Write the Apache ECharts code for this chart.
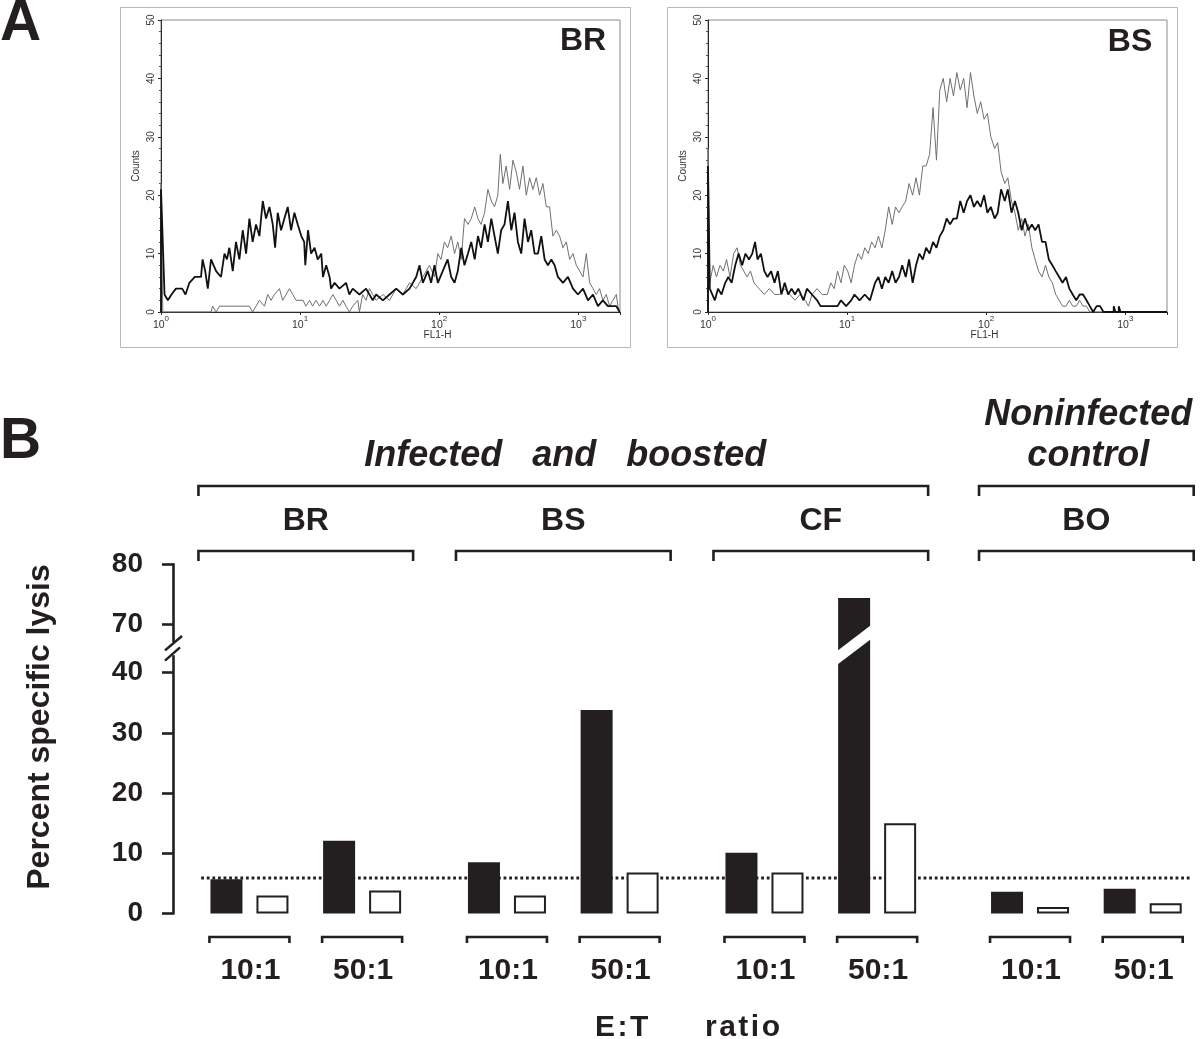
<!DOCTYPE html>
<html><head><meta charset="utf-8">
<script src="https://cdn.jsdelivr.net/npm/echarts@6/dist/echarts.min.js"></script>
<style>html,body{margin:0;padding:0;background:#fff}#c{width:1200px;height:1039px}</style>
</head><body><div id="c"></div>
<script>
// ---------------- Panel A : flow-cytometry histograms (FL1-H, counts) ----------------
const countTicks = [0, 10, 20, 30, 40, 50];
const fl1Min = 1, fl1Max = 1995;

const brDark = [[1,0],[1,21],[1.06,3],[1.12,2],[1.19,3],[1.28,4],[1.42,4],[1.50,3],[1.60,5],[1.75,6],[1.94,6],[1.99,9],[2.08,7],[2.17,4],[2.29,9],[2.49,7],[2.70,6],[2.86,10],[2.98,9],[3.10,11],[3.28,7],[3.46,12],[3.66,9],[3.87,14],[4.09,10],[4.32,16],[4.56,12],[4.82,15],[5.10,13],[5.39,19],[5.69,16],[6.02,18],[6.36,15],[6.61,11],[6.91,17],[7.30,14],[7.71,16],[8.15,18],[8.61,14],[9.10,17],[9.62,15],[10.2,13],[10.7,12],[10.9,8],[11.4,14],[12.0,10],[12.7,11],[13.4,9],[14.2,10],[14.6,6],[15.4,8],[16.3,6],[16.7,4],[17.7,5],[19.2,4],[21.4,5],[22.6,3],[23.9,4],[26.7,3],[29.8,4],[33.3,2],[35.2,3],[39.4,2],[43.9,3],[49.1,4],[54.8,3],[61.2,4],[68.3,6],[72.2,8],[76.3,5],[82.8,7],[87.5,5],[92.5,8],[97.8,5],[106,7],[115,9],[122,6],[129,5],[136,7],[144,11],[152,8],[161,10],[170,12],[180,9],[190,13],[200,11],[212,15],[224,12],[237,16],[250,13],[264,10],[279,14],[295,15],[312,19],[330,14],[348,17],[368,12],[389,10],[411,16],[435,12],[459,14],[485,10],[513,10],[542,13],[573,9],[605,8],[640,9],[676,8],[714,6],[776,5],[843,6],[916,4],[995,3],[1081,4],[1175,2],[1276,3],[1384,1],[1503,2],[1633,1],[1876,1],[1983,0]];
const brLight = [[1,0],[1,22],[1.03,0],[2.29,0],[2.35,1],[2.49,0],[2.63,1],[4.32,1],[4.56,0],[4.82,1],[5.10,2],[5.54,1],[5.85,3],[6.18,2],[6.54,3],[7.10,4],[7.50,2],[7.93,3],[8.38,4],[8.86,3],[9.36,2],[10.5,2],[11.0,1],[11.7,2],[12.3,1],[13.0,2],[13.8,1],[14.6,2],[15.4,1],[16.3,2],[17.2,3],[18.2,2],[19.2,1],[20.3,2],[21.4,1],[22.6,0],[23.9,1],[26.0,2],[26.7,0],[28.2,3],[29.8,2],[31.5,4],[33.3,3],[35.2,2],[39.4,3],[43.9,2],[49.1,4],[54.8,3],[61.2,5],[68.3,4],[76.3,6],[85.2,8],[92.5,6],[97.8,10],[103,9],[109,12],[115,11],[122,13],[129,10],[136,12],[144,9],[152,16],[161,15],[170,16],[180,18],[190,16],[200,15],[212,17],[224,21],[237,19],[250,18],[264,20],[275,27],[287,22],[303,25],[321,21],[339,26],[358,24],[378,21],[400,25],[423,20],[447,23],[472,21],[499,23],[527,20],[557,22],[589,18],[622,18],[657,13],[695,14],[734,13],[776,11],[820,12],[867,9],[916,10],[968,8],[1023,7],[1081,6],[1142,10],[1207,5],[1276,4],[1347,3],[1423,4],[1503,2],[1589,3],[1679,1],[1774,2],[1876,3],[1929,1],[1983,0]];
const bsDark = [[1,0],[1,25],[1.03,4],[1.06,4],[1.12,2],[1.18,4],[1.25,3],[1.33,5],[1.40,6],[1.48,5],[1.57,8],[1.66,10],[1.76,8],[1.86,10],[1.97,9],[2.08,10],[2.18,12],[2.27,9],[2.40,10],[2.54,7],[2.68,6],[2.84,7],[3.01,5],[3.18,7],[3.37,3],[3.56,5],[3.77,3],[3.99,4],[4.22,3],[4.46,4],[4.86,2],[5.14,4],[5.59,3],[6.09,2],[6.44,1],[7.63,1],[8.54,1],[9.03,2],[9.84,1],[10.7,2],[11.3,3],[12.3,2],[13.4,3],[14.6,2],[15.9,5],[16.8,6],[17.8,4],[18.8,6],[19.9,5],[21.1,7],[22.3,5],[23.6,6],[24.9,8],[26.4,6],[27.9,9],[29.6,5],[31.3,8],[33.1,10],[35.0,9],[37.0,11],[39.2,10],[41.5,12],[43.9,11],[46.4,13],[49.1,14],[52.0,16],[55.0,15],[58.2,16],[61.5,16],[65.1,19],[68.9,17],[72.9,19],[77.1,20],[81.6,18],[86.3,19],[91.3,18],[96.6,20],[102,17],[108,18],[115,16],[121,17],[128,21],[136,19],[143,21],[152,17],[161,19],[170,17],[180,14],[190,16],[201,14],[213,15],[225,14],[238,15],[252,12],[267,12],[282,9],[299,8],[316,7],[335,6],[354,5],[375,6],[396,4],[419,3],[444,2],[470,3],[497,3],[526,2],[556,1],[588,0],[622,1],[659,1],[697,0],[826,0],[826,1],[849,0],[898,0],[898,1],[924,0],[1995,0]];
const bsLight = [[1,0],[1,28],[1.03,5],[1.09,8],[1.15,6],[1.22,8],[1.29,7],[1.36,9],[1.44,6],[1.53,10],[1.62,11],[1.71,8],[1.81,7],[1.91,6],[2.02,7],[2.14,5],[2.33,4],[2.54,3],[2.76,4],[3.01,3],[3.27,3],[3.56,4],[3.88,3],[4.22,2],[4.59,3],[5.00,2],[5.28,1],[5.59,3],[6.09,4],[6.62,3],[7.21,3],[7.63,5],[8.07,4],[8.54,7],[9.03,5],[9.55,8],[10.1,7],[10.7,5],[11.3,8],[12.0,10],[12.7,9],[13.4,11],[14.2,10],[15.0,12],[15.9,11],[16.8,13],[17.8,11],[18.8,14],[19.9,18],[21.1,15],[22.3,18],[23.6,17],[24.9,18],[26.4,19],[27.9,22],[29.6,20],[31.3,23],[33.1,20],[35.0,25],[37.0,25],[39.2,27],[41.5,35],[43.9,26],[46.4,38],[49.1,40],[52.0,36],[55.0,40],[58.2,37],[61.5,41],[65.1,38],[68.9,40],[72.9,35],[77.1,41],[81.6,37],[86.3,34],[91.3,36],[96.6,33],[102,34],[108,30],[115,28],[121,29],[128,24],[136,22],[143,23],[152,19],[161,17],[170,14],[180,16],[190,13],[201,15],[213,11],[225,9],[238,7],[252,6],[267,8],[282,6],[299,5],[316,3],[335,2],[354,1],[375,1],[396,2],[419,1],[444,1],[470,2],[497,1],[526,1],[556,0],[1995,0]];

// ---------------- Panel B : percent specific lysis ----------------
const pairRatios = ['10:1', '50:1', '10:1', '50:1', '10:1', '50:1', '10:1', '50:1'];
const pairGroups = ['BR', 'BR', 'BS', 'BS', 'CF', 'CF', 'BO', 'BO'];
const groupNames = ['BR', 'BS', 'CF', 'BO'];
const superGroupNames = ['Infected   and   boosted', 'Noninfected\ncontrol'];
const superGroupMembers = [['BR', 'BS', 'CF'], ['BO']];
const lysisFilled = [5.7, 12.1, 8.5, 33.8, 10.1, 74.4, 3.6, 4.1];
const lysisOpen = [3.0, 3.8, 3.0, 6.8, 6.8, 15.0, 1.1, 1.7];
const cutoffLine = 5.9;
const lysisTicks = [0, 10, 20, 30, 40, 70, 80];
const lysisBreak = [40, 70];

// ---------------- layout / helpers ----------------
const INK = '#231f20';
const FONT = '"Liberation Sans", Arial, Helvetica, sans-serif';
const BREAK_UNITS = 8;                       // vertical room the break occupies
const SHIFT = lysisBreak[1] - lysisBreak[0] - BREAK_UNITS;
const toD = v => v <= lysisBreak[0] ? v : v - SHIFT;
const fromD = d => d <= lysisBreak[0] ? d : d + SHIFT;

const FIRST_SLOT = 9, STEP_IN_GROUP = 14, STEP_GROUP = 18, STEP_SUPER = 19, N_SLOTS = 127;
const superOf = g => superGroupMembers.findIndex(m => m.indexOf(g) >= 0);
const pairSlot = [];
{
  let s = FIRST_SLOT;
  pairGroups.forEach((g, i) => {
    if (i > 0) {
      const pg = pairGroups[i - 1];
      s += (g === pg) ? STEP_IN_GROUP : (superOf(g) !== superOf(pg) ? STEP_SUPER : STEP_GROUP);
    }
    pairSlot.push(s);
  });
}
const slotCats = Array.from({length: N_SLOTS}, (_, i) => String(i));
const filledData = new Array(N_SLOTS).fill('-');
const openData = new Array(N_SLOTS).fill('-');
pairSlot.forEach((sl, i) => { filledData[sl] = toD(lysisFilled[i]); openData[sl] = toD(lysisOpen[i]); });

const BAR_W = 32, BAR_GAP_PX = 14;
const BAR_OFF = (BAR_W + BAR_GAP_PX) / 2;

const groupSpan = g => {
  const idx = pairGroups.map((pg, i) => pg === g ? i : -1).filter(i => i >= 0);
  return [pairSlot[idx[0]], pairSlot[idx[idx.length - 1]]];
};

function bracket(x0, x1, y, tick) {
  return {type: 'polyline', shape: {points: [[x0, y + tick], [x0, y], [x1, y], [x1, y + tick]]},
    style: {stroke: INK, lineWidth: 2.6, fill: 'none'}};
}

const chart = echarts.init(document.getElementById('c'), null, {renderer: 'canvas'});

function logAxis(g) {
  return {
    type: 'log', gridIndex: g, logBase: 10, min: fl1Min, max: fl1Max,
    axisLine: {lineStyle: {color: '#2a2a2a', width: 1}},
    axisTick: {length: 3, lineStyle: {color: '#2a2a2a'}},
    splitLine: {show: false},
    axisLabel: {
      margin: 3,
      formatter: v => {
        const l = Math.log10(v), e = Math.round(l);
        return Math.abs(l - e) < 1e-6 ? '{b|10}{s|' + e + '}' : '';
      },
      rich: {
        b: {fontSize: 10.5, fontFamily: FONT, color: '#333', lineHeight: 16, verticalAlign: 'bottom'},
        s: {fontSize: 8, fontFamily: FONT, color: '#333', lineHeight: 9, verticalAlign: 'top'}
      }
    }
  };
}
function countAxis(g) {
  return {
    type: 'value', gridIndex: g, min: countTicks[0], max: countTicks[countTicks.length - 1], interval: 10,
    axisLine: {show: true, lineStyle: {color: '#2a2a2a', width: 1}},
    axisTick: {show: true, length: 3, lineStyle: {color: '#2a2a2a'}},
    minorTick: {show: true, splitNumber: 5, length: 2, lineStyle: {color: '#555'}},
    splitLine: {show: false}, minorSplitLine: {show: false},
    axisLabel: {rotate: 90, fontSize: 10, fontFamily: FONT, color: '#333', margin: 5}
  };
}
function hist(data, g, color, width, z) {
  return {type: 'line', xAxisIndex: g, yAxisIndex: g, data, symbol: 'none', showSymbol: false,
    lineStyle: {color, width}, z, clip: true, silent: true};
}

const option = {
  animation: false,
  backgroundColor: '#fff',
  grid: [
    {left: 161, top: 20, width: 459, height: 292, show: true, borderColor: '#8a8a8a', borderWidth: 1, outerBoundsMode: 'none'},
    {left: 708, top: 20, width: 459, height: 292, show: true, borderColor: '#8a8a8a', borderWidth: 1, outerBoundsMode: 'none'},
    {left: 173, top: 564.3, width: 1022, height: 349.2, outerBoundsMode: 'none'}
  ],
  xAxis: [
    logAxis(0), logAxis(1),
    {type: 'category', gridIndex: 2, data: slotCats, axisLine: {show: false}, axisTick: {show: false},
     axisLabel: {show: false}, splitLine: {show: false}}
  ],
  yAxis: [
    countAxis(0), countAxis(1),
    {type: 'value', gridIndex: 2, min: 0, max: toD(lysisTicks[lysisTicks.length - 1]),
     axisLine: {show: true, lineStyle: {color: INK, width: 2.6}},
     axisTick: {show: true, length: 11, lineStyle: {color: INK, width: 2.6}, customValues: lysisTicks.map(toD)},
     axisLabel: {customValues: lysisTicks.map(toD), formatter: d => String(Math.round(fromD(d))),
       fontSize: 28, fontWeight: 'bold', fontFamily: FONT, color: INK, margin: 30},
     splitLine: {show: false}}
  ],
  series: [
    hist(brLight, 0, '#707070', 1, 2),
    hist(brDark, 0, '#111111', 1.8, 3),
    hist(bsLight, 1, '#707070', 1, 2),
    hist(bsDark, 1, '#111111', 1.8, 3),
    {type: 'line', xAxisIndex: 2, yAxisIndex: 2, data: [[3, toD(cutoffLine)], [N_SLOTS - 1, toD(cutoffLine)]],
     symbol: 'none', lineStyle: {color: INK, width: 2.8, type: 'dotted'}, z: 1, silent: true},
    {type: 'bar', xAxisIndex: 2, yAxisIndex: 2, data: filledData, barWidth: BAR_W, barGap: (BAR_GAP_PX / BAR_W * 100) + '%',
     itemStyle: {color: INK}, z: 2, silent: true},
    {type: 'bar', xAxisIndex: 2, yAxisIndex: 2, data: openData, barWidth: BAR_W,
     itemStyle: {color: '#fff', borderColor: INK, borderWidth: 2}, z: 2, silent: true},
    // white slash through bars crossing the axis break
    {type: 'custom', xAxisIndex: 2, yAxisIndex: 2, z: 4, silent: true, clip: false,
     data: pairSlot.map((sl, i) => [sl, lysisFilled[i]]).filter(d => d[1] > lysisBreak[1]),
     renderItem: (params, api) => {
       const sl = api.value(0);
       const cx = api.coord([sl, 0])[0] - BAR_OFF;
       const y = d => api.coord([sl, d])[1];
       const b = lysisBreak[0], hw = BAR_W / 2 + 1;
       return {type: 'polygon', shape: {points: [[cx - hw, y(b + 1.3)], [cx - hw, y(b + 3.6)], [cx + hw, y(b + 7.9)], [cx + hw, y(b + 5.6)]]},
         style: {fill: '#fff'}};
     }},
    // axis break marks
    {type: 'custom', xAxisIndex: 2, yAxisIndex: 2, z: 4, silent: true, clip: false, data: [[0, lysisBreak[0]]],
     renderItem: (params, api) => {
       const ax = params.coordSys.x;
       const y = d => api.coord([0, d])[1];
       const b = lysisBreak[0];
       return {type: 'group', children: [
         {type: 'rect', shape: {x: ax - 3, y: y(b + 5.1), width: 6, height: y(b + 2.9) - y(b + 5.1)}, style: {fill: '#fff'}},
         {type: 'line', shape: {x1: ax - 8, y1: y(b + 3.7), x2: ax + 9, y2: y(b + 6.1)}, style: {stroke: INK, lineWidth: 2.5}},
         {type: 'line', shape: {x1: ax - 8, y1: y(b + 2.0), x2: ax + 7, y2: y(b + 4.2)}, style: {stroke: INK, lineWidth: 2.5}}
       ]};
     }},
    // E:T pair brackets + labels
    {type: 'custom', xAxisIndex: 2, yAxisIndex: 2, z: 4, silent: true, clip: false,
     data: pairSlot.map((sl, i) => [sl, i]),
     renderItem: (params, api) => {
       const x = api.coord([api.value(0), 0])[0];
       return {type: 'group', children: [
         bracket(x - 40, x + 40, 937, 6),
         {type: 'text', style: {text: pairRatios[params.dataIndex], x: x + 1, y: 971, font: 'bold 30px ' + FONT,
           fill: INK, align: 'center', verticalAlign: 'middle'}}
       ]};
     }},
    // group brackets (BR, BS, CF, BO)
    {type: 'custom', xAxisIndex: 2, yAxisIndex: 2, z: 4, silent: true, clip: false,
     data: groupNames.map(g => groupSpan(g)),
     renderItem: (params, api) => {
       const x0 = api.coord([api.value(0), 0])[0] - 51, x1 = api.coord([api.value(1), 0])[0] + 51;
       return {type: 'group', children: [
         bracket(x0, x1, 551, 10),
         {type: 'text', style: {text: groupNames[params.dataIndex], x: (x0 + x1) / 2, y: 521.5, font: 'bold 32px ' + FONT,
           fill: INK, align: 'center', verticalAlign: 'middle'}}
       ]};
     }},
    // super-group brackets
    {type: 'custom', xAxisIndex: 2, yAxisIndex: 2, z: 4, silent: true, clip: false,
     data: superGroupMembers.map(m => [groupSpan(m[0])[0], groupSpan(m[m.length - 1])[1]]),
     renderItem: (params, api) => {
       const x0 = api.coord([api.value(0), 0])[0] - 51, x1 = api.coord([api.value(1), 0])[0] + 51;
       const txt = superGroupNames[params.dataIndex];
       const lines = txt.split('\n').length;
       return {type: 'group', children: [
         bracket(x0, x1, 486, 10),
         {type: 'text', style: {text: txt, x: (x0 + x1) / 2 + 2, y: 456 - (lines - 1) * 20.5, font: 'italic bold 36px ' + FONT,
           lineHeight: 41, fill: INK, align: 'center', verticalAlign: 'middle'}}
       ]};
     }}
  ],
  graphic: [
    {type: 'rect', shape: {x: 120.5, y: 7.5, width: 510, height: 340}, style: {fill: 'none', stroke: '#b8b8b8', lineWidth: 1}, silent: true},
    {type: 'rect', shape: {x: 667.5, y: 7.5, width: 510, height: 340}, style: {fill: 'none', stroke: '#b8b8b8', lineWidth: 1}, silent: true},
    {type: 'text', x: 583, y: 41, style: {text: 'BR', font: 'bold 32px ' + FONT, fill: INK, align: 'center', verticalAlign: 'middle'}},
    {type: 'text', x: 1130, y: 42, style: {text: 'BS', font: 'bold 32px ' + FONT, fill: INK, align: 'center', verticalAlign: 'middle'}},
    {type: 'text', x: 136, y: 166, rotation: Math.PI / 2, style: {text: 'Counts', font: '10px ' + FONT, fill: '#333', align: 'center', verticalAlign: 'middle'}},
    {type: 'text', x: 683, y: 166, rotation: Math.PI / 2, style: {text: 'Counts', font: '10px ' + FONT, fill: '#333', align: 'center', verticalAlign: 'middle'}},
    {type: 'text', x: 437.5, y: 335, style: {text: 'FL1-H', font: '10px ' + FONT, fill: '#333', align: 'center', verticalAlign: 'middle'}},
    {type: 'text', x: 984.5, y: 335, style: {text: 'FL1-H', font: '10px ' + FONT, fill: '#333', align: 'center', verticalAlign: 'middle'}},
    {type: 'text', x: 0, y: 24, style: {text: 'A', font: 'bold 57px ' + FONT, fill: INK, align: 'left', verticalAlign: 'middle'}},
    {type: 'text', x: 0, y: 442, style: {text: 'B', font: 'bold 57px ' + FONT, fill: INK, align: 'left', verticalAlign: 'middle'}},
    {type: 'text', x: 40, y: 727, rotation: Math.PI / 2, style: {text: 'Percent specific lysis', font: 'bold 32px ' + FONT, fill: INK, align: 'center', verticalAlign: 'middle'}},
    {type: 'text', x: 595, y: 1028, style: {text: 'E\u200A:\u200AT', font: 'bold 30px ' + FONT, fill: INK, align: 'left', verticalAlign: 'middle'}},
    {type: 'text', x: 705, y: 1028, style: {text: 'r\u200Aa\u200At\u200Ai\u200Ao', font: 'bold 30px ' + FONT, fill: INK, align: 'left', verticalAlign: 'middle'}}
  ]
};
chart.setOption(option);
</script></body></html>
